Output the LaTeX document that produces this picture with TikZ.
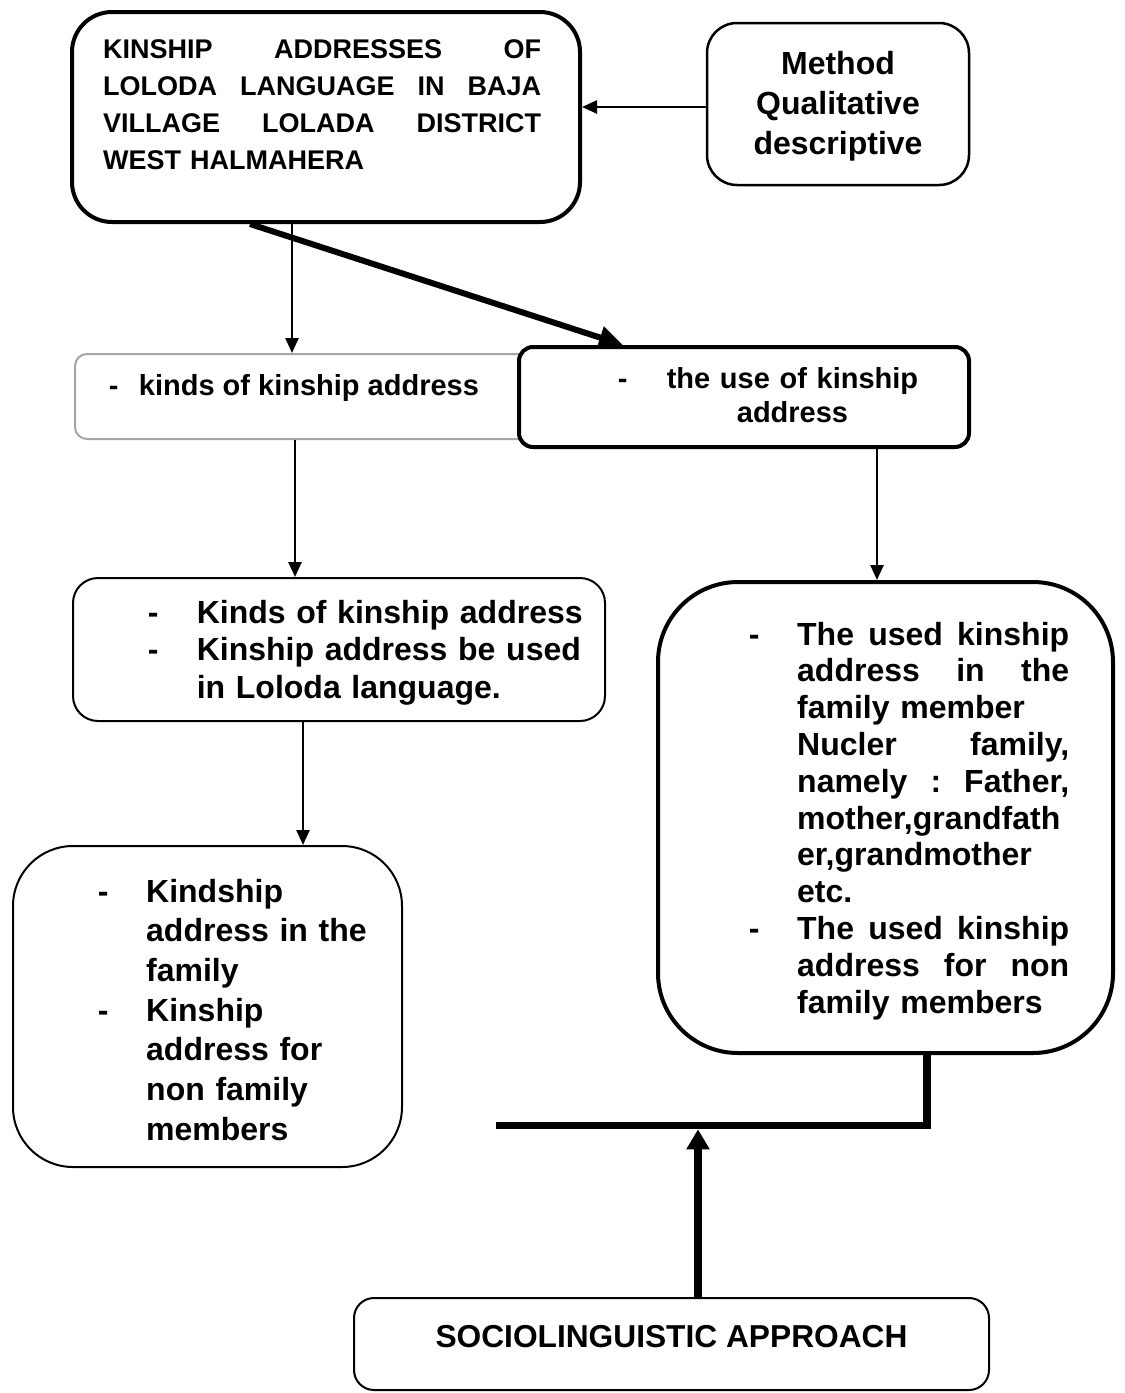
\documentclass[tikz,border=0pt]{standalone}
\usepackage{fontspec}
\setmainfont{Liberation Sans}
\usetikzlibrary{arrows.meta}
\newcommand\jl[2][272pt]{\leavevmode\hbox to #1{#2}}
\newcommand\dsh[1][48.4pt]{\makebox[#1][l]{-}}
\newcommand\ind[1][48.4pt]{\hspace*{#1}}
\newcommand\fsz[2]{\fontsize{#1}{#2}\selectfont\bfseries}
\begin{document}
\begin{tikzpicture}[x=1pt,y=-1pt,
    >={Triangle[length=15pt,width=13pt]},
    box/.style={draw,fill=white,rectangle,inner sep=0pt,line width=2pt},
    heavy/.style={line width=4pt},
    txt/.style={inner sep=0pt,align=left,anchor=base west},
    link/.style={line width=2.5pt,->},
    fatlink/.style={line width=6pt,-{Triangle[length=24pt,width=22pt]}},
    bar/.style={line width=7.5pt,line join=miter}]
  \path[use as bounding box,fill=white] (0,0) rectangle (1125,1393);

  % boxes
  \node[box,heavy,rounded corners=40pt,minimum width=508pt,minimum height=210pt] (title) at (326,117) {};
  \node[box,line width=2.5pt,rounded corners=30pt,minimum width=262pt,minimum height=162pt] (method) at (838,104) {};
  \node[box,draw=black!35,rounded corners=12pt,minimum width=470pt,minimum height=85pt] (kinds) at (310,396.5) {};
  \node[box,heavy,rounded corners=14pt,minimum width=450pt,minimum height=100pt] (use) at (744,397) {};
  \node[box,rounded corners=25pt,minimum width=532pt,minimum height=143pt] (kindsdet) at (339,649.5) {};
  \node[box,heavy,rounded corners=80pt,minimum width=455pt,minimum height=471pt] (usedet) at (885.5,817.5) {};
  \node[box,rounded corners=60pt,minimum width=389pt,minimum height=321pt] (kindsmem) at (207.5,1006.5) {};
  \node[box,rounded corners=20pt,minimum width=635pt,minimum height=92pt] (socio) at (671.5,1344) {};

  % texts
  \node[txt,text width=450pt,font=\fsz{27}{37}] (titletxt) at (103,58.5)
    {\jl[438pt]{KINSHIP\hfill ADDRESSES\hfill OF}\\
     \jl[438pt]{LOLODA\hfill LANGUAGE\hfill IN\hfill BAJA}\\
     \jl[438pt]{VILLAGE\hfill LOLADA\hfill DISTRICT}\\
     WEST HALMAHERA};
  \node[txt,anchor=base,align=center,text width=260pt,font=\fsz{32}{40}] (methodtxt) at (838,74.5)
    {Method\\Qualitative\\descriptive};
  \node[txt,font=\fsz{29}{34}] (kindstxt) at (108.7,395) {\dsh[30pt]kinds of kinship address};
  \node[txt,anchor=base,align=center,text width=300pt,font=\fsz{29}{34}] (usetxt) at (792.5,388)
    {\leavevmode\llap{\dsh[49pt]}the use of kinship\\address};
  \node[txt,text width=470pt,font=\fsz{32}{37.5}] (kindsdettxt) at (147.6,623)
    {\dsh[49pt]Kinds of kinship address\\\dsh[49pt]Kinship address be used\\\ind[49pt]in Loloda language.};
  \node[txt,text width=340pt,font=\fsz{32}{36.8}] (usedettxt) at (748.6,645)
    {\dsh\jl{The\hfill used\hfill kinship}\\
     \ind\jl{address\hfill in\hfill the}\\
     \ind family member\\
     \ind\jl{Nucler\hfill family,}\\
     \ind\jl{namely\hfill :\hfill Father,}\\
     \ind mother,grandfath\\
     \ind er,grandmother\\
     \ind etc.\\
     \dsh\jl{The\hfill used\hfill kinship}\\
     \ind\jl{address\hfill for\hfill non}\\
     \ind family members};
  \node[txt,text width=300pt,font=\fsz{32}{39.7}] (kindsmemtxt) at (97.6,902)
    {\dsh Kindship\\\ind address in the\\\ind family\\\dsh Kinship\\\ind address for\\\ind non family\\\ind members};
  \node[txt,anchor=base,font=\fsz{31.7}{36}] (sociotxt) at (671.5,1347) {SOCIOLINGUISTIC APPROACH};

  % connectors
  \coordinate (barend) at (496,1125.5);
  \draw[link] ([yshift=-3pt]method.west) -- ([yshift=-3pt]method.west -| title.east);
  \draw[link] ([xshift=-34pt]title.south) -- ([xshift=-34pt]title.south |- kinds.north);
  \draw[fatlink] ([xshift=-76pt]title.south) -- ([xshift=-121pt]use.north);
  \draw[link] ([xshift=-15pt]kinds.south) -- ([xshift=-15pt]kinds.south |- kindsdet.north);
  \draw[link] ([xshift=133pt]use.south) -- ([xshift=133pt]use.south |- usedet.north);
  \draw[link] ([xshift=-36pt]kindsdet.south) -- ([xshift=-36pt]kindsdet.south |- kindsmem.north);
  \draw[bar] ([xshift=41.5pt]usedet.south) |- (barend);
  \draw[bar,-{Triangle[length=20pt,width=22pt]},shorten >=3.75pt] ([xshift=26.5pt]socio.north) -- ([xshift=26.5pt]socio.north |- barend);
\end{tikzpicture}
\end{document}
